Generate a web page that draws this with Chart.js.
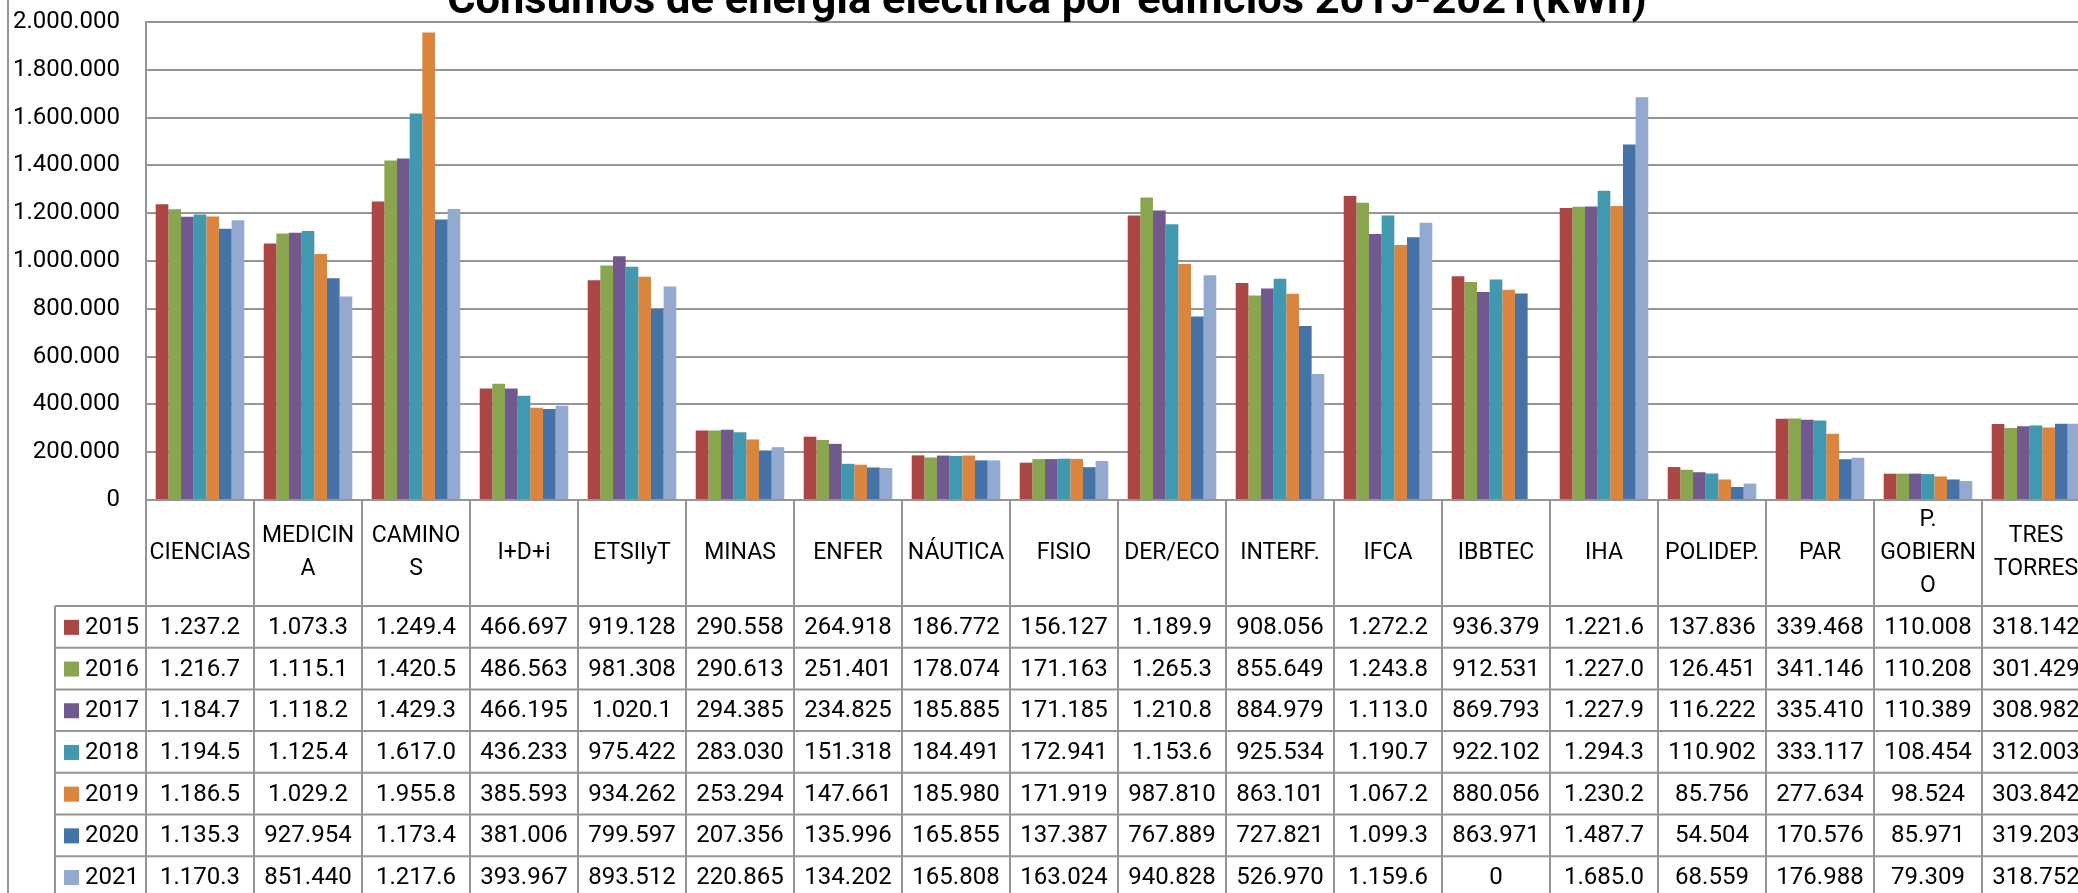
<!DOCTYPE html>
<html>
<head>
<meta charset="utf-8">
<script src="https://cdn.jsdelivr.net/npm/chart.js@4/dist/chart.umd.min.js"></script>
<style>
  html, body { margin: 0; padding: 0; background: #fff; overflow: hidden; }
  #wrap { position: absolute; left: 0; top: 0; width: 2090px; height: 893px; }
  canvas { display: block; }
</style>
</head>
<body>
<div id="wrap"><canvas id="c" width="2090" height="893"></canvas></div>
<script>
// ---- Data ----
const chartTitle = "Consumos de energía eléctrica por edificios 2015-2021(kWh)";
const categories = ["CIENCIAS", "MEDICINA", "CAMINOS", "I+D+i", "ETSIIyT", "MINAS", "ENFER", "NÁUTICA", "FISIO",
  "DER/ECO", "INTERF.", "IFCA", "IBBTEC", "IHA", "POLIDEP.", "PAR", "P. GOBIERNO", "TRES TORRES"];
// header lines as they wrap in the table
const categoryLines = [["CIENCIAS"], ["MEDICIN", "A"], ["CAMINO", "S"], ["I+D+i"], ["ETSIIyT"], ["MINAS"], ["ENFER"],
  ["NÁUTICA"], ["FISIO"], ["DER/ECO"], ["INTERF."], ["IFCA"], ["IBBTEC"], ["IHA"], ["POLIDEP."], ["PAR"],
  ["P.", "GOBIERN", "O"], ["TRES", "TORRES"]];
const years = ["2015", "2016", "2017", "2018", "2019", "2020", "2021"];
const y2015 = [1237200, 1073300, 1249400, 466697, 919128, 290558, 264918, 186772, 156127, 1189900, 908056, 1272200, 936379, 1221600, 137836, 339468, 110008, 318142];
const y2016 = [1216700, 1115100, 1420500, 486563, 981308, 290613, 251401, 178074, 171163, 1265300, 855649, 1243800, 912531, 1227000, 126451, 341146, 110208, 301429];
const y2017 = [1184700, 1118200, 1429300, 466195, 1020100, 294385, 234825, 185885, 171185, 1210800, 884979, 1113000, 869793, 1227900, 116222, 335410, 110389, 308982];
const y2018 = [1194500, 1125400, 1617000, 436233, 975422, 283030, 151318, 184491, 172941, 1153600, 925534, 1190700, 922102, 1294300, 110902, 333117, 108454, 312003];
const y2019 = [1186500, 1029200, 1955800, 385593, 934262, 253294, 147661, 185980, 171919, 987810, 863101, 1067200, 880056, 1230200, 85756, 277634, 98524, 303842];
const y2020 = [1135300, 927954, 1173400, 381006, 799597, 207356, 135996, 165855, 137387, 767889, 727821, 1099300, 863971, 1487700, 54504, 170576, 85971, 319203];
const y2021 = [1170300, 851440, 1217600, 393967, 893512, 220865, 134202, 165808, 163024, 940828, 526970, 1159600, 0, 1685000, 68559, 176988, 79309, 318752];
const yMin = 0, yMax = 2000000, yStep = 200000;

// ---- Styles ----
const colors = ["#AA4643", "#89A54E", "#71588F", "#4198AF", "#DB843D", "#4572A7", "#93A9CF"];
const seriesData = [y2015, y2016, y2017, y2018, y2019, y2020, y2021];
const FONT = "Roboto, 'Liberation Sans', sans-serif";
const LINE = "#959595";

function fmtThousands(v) {
  const s = Math.round(v).toString();
  return s.replace(/\B(?=(\d{3})+(?!\d))/g, ".");
}
function fmtCell(v) {
  return fmtThousands(v).slice(0, 7);
}

const tablePlugin = {
  id: "tablePlugin",
  afterDraw(chart) {
    const ctx = chart.ctx;
    const xs = chart.scales.x;
    const ca = chart.chartArea;
    const n = categories.length;
    const w = (xs.right - xs.left) / n;
    const top = ca.bottom;          // table top = x axis line
    const headH = 106;
    const rowH = 41.7;
    const legLeft = 55;
    const H = chart.height;
    ctx.save();
    ctx.strokeStyle = LINE;
    ctx.lineWidth = 2;
    // outer chart-area border (left)
    ctx.beginPath(); ctx.moveTo(8, 0); ctx.lineTo(8, H); ctx.stroke();
    // plot-area left border continuing through table
    ctx.beginPath(); ctx.moveTo(xs.left, ca.top); ctx.lineTo(xs.left, H); ctx.stroke();
    // top line of table (axis line)
    ctx.beginPath(); ctx.moveTo(xs.left, top); ctx.lineTo(xs.right, top); ctx.stroke();
    // vertical cell borders
    for (let i = 1; i <= n; i++) {
      const x = xs.left + i * w;
      ctx.beginPath(); ctx.moveTo(x, top); ctx.lineTo(x, H); ctx.stroke();
    }
    // legend column left border
    ctx.beginPath(); ctx.moveTo(legLeft, top + headH); ctx.lineTo(legLeft, H); ctx.stroke();
    // horizontal row borders
    for (let r = 0; r <= years.length; r++) {
      const y = top + headH + r * rowH;
      ctx.beginPath(); ctx.moveTo(legLeft, y); ctx.lineTo(xs.right, y); ctx.stroke();
    }
    // header text
    ctx.fillStyle = "#000";
    ctx.textAlign = "center";
    ctx.textBaseline = "middle";
    ctx.font = "23px " + FONT;
    const lh = 33;
    for (let i = 0; i < n; i++) {
      const cx = xs.getPixelForValue(i);
      const lines = categoryLines[i];
      const cy = top + headH / 2;
      lines.forEach((t, k) => {
        ctx.fillText(t, cx, cy + (k - (lines.length - 1) / 2) * lh);
      });
    }
    // rows
    ctx.font = "24px " + FONT;
    for (let r = 0; r < years.length; r++) {
      const cy = top + headH + r * rowH + rowH / 2 + 1;
      // legend key
      ctx.fillStyle = colors[r];
      ctx.fillRect(64, cy - 8, 15, 15);
      ctx.fillStyle = "#000";
      ctx.textAlign = "left";
      ctx.fillText(years[r], 85, cy);
      ctx.textAlign = "center";
      for (let i = 0; i < n; i++) {
        ctx.fillText(fmtCell(seriesData[r][i]), xs.getPixelForValue(i), cy);
      }
    }
    // title (top partially cut off, as in the reference)
    ctx.font = "bold 44px " + FONT;
    const m = ctx.measureText(chartTitle).width;
    const size = 44 * 1200 / m;
    ctx.font = "bold " + size.toFixed(2) + "px " + FONT;
    ctx.textAlign = "center";
    ctx.textBaseline = "alphabetic";
    ctx.fillText(chartTitle, 1047, 13);
    ctx.restore();
  }
};

Chart.defaults.font.family = FONT;
Chart.defaults.font.size = 24;
Chart.defaults.color = "#000";

new Chart(document.getElementById("c"), {
  type: "bar",
  data: {
    labels: categories,
    datasets: years.map((yr, k) => ({
      label: yr,
      data: seriesData[k],
      backgroundColor: colors[k],
      borderWidth: 0,
      barPercentage: 1.0,
      categoryPercentage: 0.82
    }))
  },
  options: {
    responsive: false,
    animation: false,
    events: [],
    layout: { padding: { top: 22, left: 0, right: 0, bottom: 0 } },
    plugins: { legend: { display: false }, title: { display: false }, tooltip: { enabled: false } },
    scales: {
      x: {
        ticks: { display: false },
        grid: { display: false, drawTicks: false },
        border: { display: false },
        afterFit: s => { s.height = 393; s.paddingLeft = 0; s.paddingRight = 0; }
      },
      y: {
        min: yMin, max: yMax,
        ticks: {
          stepSize: yStep, padding: 26,
          font: { size: 24 },
          callback: v => fmtThousands(v)
        },
        grid: { color: LINE, lineWidth: 2, drawTicks: false },
        border: { display: true, color: LINE, width: 2 },
        afterFit: s => { s.width = 146; s.paddingTop = 0; s.paddingBottom = 0; }
      }
    }
  },
  plugins: [tablePlugin]
});
</script>
</body>
</html>
